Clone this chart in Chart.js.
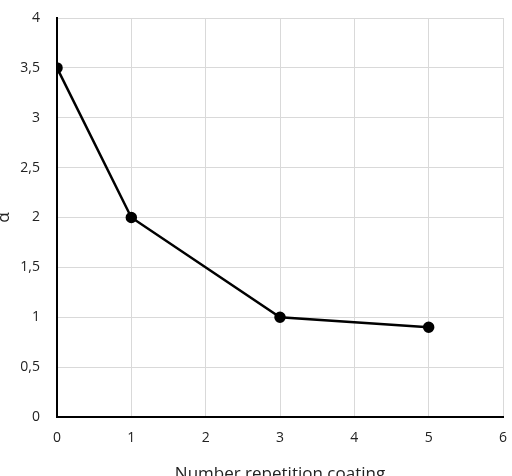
<!DOCTYPE html>
<html>
<head>
<meta charset="utf-8">
<script src="https://cdn.jsdelivr.net/npm/chart.js@4/dist/chart.umd.min.js"></script>
<style>
  html, body { margin: 0; padding: 0; background: #fff; }
  #wrap { width: 512px; height: 476px; position: relative; }
</style>
</head>
<body>
<div id="wrap"><canvas id="chart"></canvas></div>
<script>
// data
const repetitions = [0, 1, 3, 5];
const alphaValues = [3.5, 2, 1, 0.9];
const xTicks = [0, 1, 2, 3, 4, 5, 6];
const yTicks = [0, 0.5, 1, 1.5, 2, 2.5, 3, 3.5, 4];

const points = repetitions.map((x, i) => ({ x: x, y: alphaValues[i] }));

Chart.defaults.font.family = "'Open Sans', 'Liberation Sans', sans-serif";
Chart.defaults.font.size = 14;
Chart.defaults.color = "#222";

const ctx = document.getElementById("chart");

// stop the scales from pushing the plot area in for label overhang
function noPad(axis) {
  axis.paddingLeft = 0;
  axis.paddingRight = 0;
  axis.paddingTop = 0;
  axis.paddingBottom = 0;
}

new Chart(ctx, {
  type: "scatter",
  data: {
    datasets: [
      {
        label: "alpha",
        data: points,
        showLine: true,
        borderColor: "#000",
        backgroundColor: "#000",
        borderWidth: 2.5,
        pointRadius: 4.5,
        pointHoverRadius: 4.5,
      },
    ],
  },
  options: {
    responsive: true,
    maintainAspectRatio: false,
    animation: false,
    layout: {
      padding: { top: 18, right: 9, bottom: 0, left: 0 },
    },
    plugins: {
      legend: { display: false },
      tooltip: { enabled: false },
    },
    scales: {
      x: {
        type: "linear",
        min: 0,
        max: 6,
        afterBuildTicks: (axis) => {
          axis.ticks = xTicks.map((v) => ({ value: v }));
        },
        afterFit: (axis) => {
          axis.height = 59;
          noPad(axis);
        },
        grid: { color: "#d9d9d9", lineWidth: 1, drawTicks: false },
        border: { color: "#000", width: 2 },
        ticks: { padding: 13 },
        title: {
          display: true,
          text: "Number repetition coating",
          font: { size: 17 },
          padding: { top: 0, bottom: -8 },
        },
      },
      y: {
        type: "linear",
        min: 0,
        max: 4,
        afterBuildTicks: (axis) => {
          axis.ticks = yTicks.map((v) => ({ value: v }));
        },
        afterFit: (axis) => {
          axis.width = 57;
          noPad(axis);
        },
        grid: { color: "#d9d9d9", lineWidth: 1, drawTicks: false },
        border: { color: "#000", width: 2 },
        ticks: {
          padding: 17,
          callback: (v) => String(v).replace(".", ","),
        },
        title: {
          display: true,
          text: "α",
          font: { size: 17 },
          padding: { top: -6, bottom: 0 },
        },
      },
    },
  },
});
</script>
</body>
</html>
